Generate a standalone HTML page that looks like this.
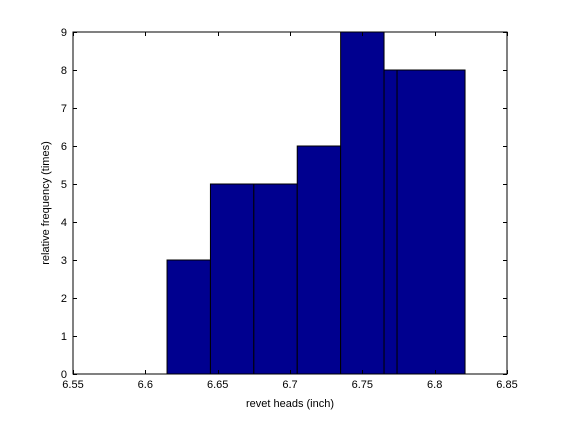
<!DOCTYPE html>
<html><head><meta charset="utf-8"><style>
body{margin:0;background:#fff;}
svg text{font-family:"Liberation Sans",sans-serif;font-size:11px;fill:#000;}
</style></head><body>
<svg id="chart" width="561" height="420" xmlns="http://www.w3.org/2000/svg">
<rect x="0" y="0" width="561" height="420" fill="#fff"/>
<g id="bars"></g>
<g id="axes"></g>
<text x="290" y="407" text-anchor="middle">revet heads (inch)</text>
<text transform="translate(49,203) rotate(-90)" text-anchor="middle">relative frequency (times)</text>
</svg>
<script>
const binEdges = [6.615, 6.645, 6.675, 6.705, 6.735, 6.765, 6.774, 6.821];
const counts = [3, 5, 5, 6, 9, 8, 8];
const xTicks = [6.55, 6.6, 6.65, 6.7, 6.75, 6.8, 6.85];
const xTickLabels = ["6.55", "6.6", "6.65", "6.7", "6.75", "6.8", "6.85"];
const yTicks = [0, 1, 2, 3, 4, 5, 6, 7, 8, 9];

const L = 73, R = 507, T = 32, B = 374;
const xMin = 6.55, xMax = 6.85, yMin = 0, yMax = 9;
function xs(v){ return L + (v - xMin) / (xMax - xMin) * (R - L); }
function ys(v){ return B - (v - yMin) / (yMax - yMin) * (B - T); }
const NS = "http://www.w3.org/2000/svg";
const barsG = document.getElementById('bars');
const axesG = document.getElementById('axes');
function mk(tag, attrs){ const e = document.createElementNS(NS, tag); for (const k in attrs) e.setAttribute(k, attrs[k]); return e; }

counts.forEach((c, i) => {
  const x0 = xs(binEdges[i]), x1 = xs(binEdges[i+1]);
  const r = mk('rect', {x: x0, y: ys(c), width: x1 - x0, height: ys(0) - ys(c), fill: '#00008f', stroke: '#000', 'stroke-width': 1});
  
  
  barsG.appendChild(r);
});

const frame = mk('rect', {x: L, y: T, width: R - L, height: B - T, fill: 'none', stroke: '#000', 'stroke-width': 1});


axesG.appendChild(frame);

xTicks.forEach((v, i) => {
  const x = Math.round(xs(v)) + 0.5;
  const t1 = mk('line', {x1: x, x2: x, y1: B, y2: B - 4, stroke: '#000'});
  
  
  axesG.appendChild(t1);
  const t2 = mk('line', {x1: x, x2: x, y1: T, y2: T + 4, stroke: '#000'});
  
  
  axesG.appendChild(t2);
  const lb = mk('text', {x: xs(v), y: B + 14, 'text-anchor': 'middle'});
  lb.textContent = xTickLabels[i];
  
  
  axesG.appendChild(lb);
});

yTicks.forEach(v => {
  const y = Math.round(ys(v)) + 0.5;
  const t1 = mk('line', {x1: L, x2: L + 4, y1: y, y2: y, stroke: '#000'});
  
  
  axesG.appendChild(t1);
  const t2 = mk('line', {x1: R, x2: R - 4, y1: y, y2: y, stroke: '#000'});
  
  
  axesG.appendChild(t2);
  const lb = mk('text', {x: L - 6, y: ys(v) + 4, 'text-anchor': 'end'});
  lb.textContent = String(v);
  
  
  axesG.appendChild(lb);
});
</script>
</body></html>
